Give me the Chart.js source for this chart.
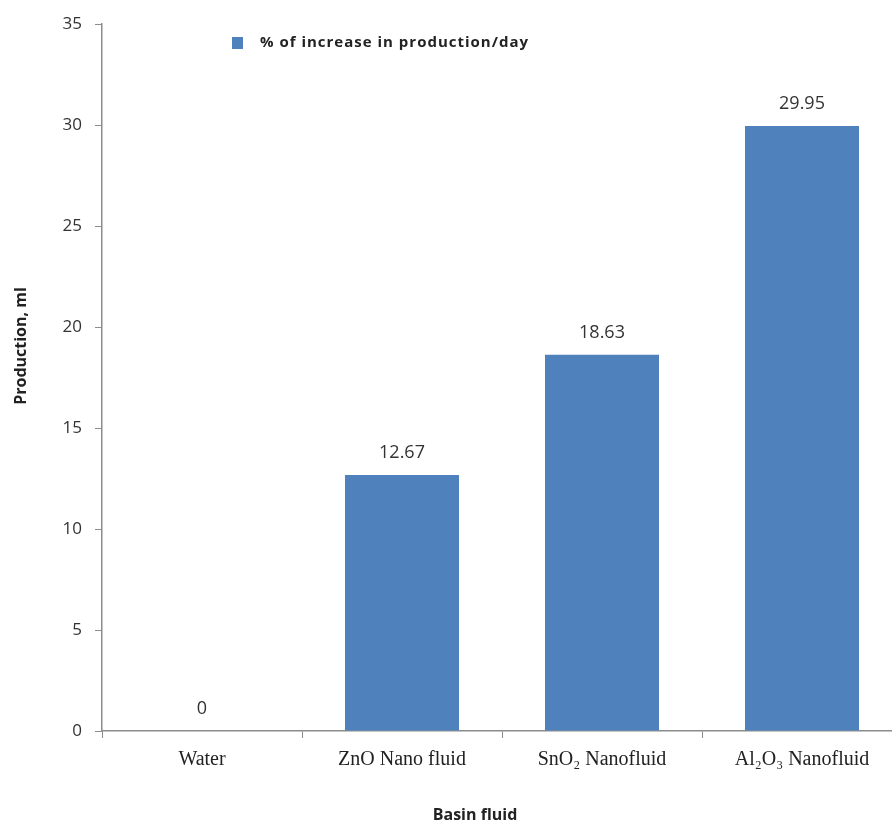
<!DOCTYPE html>
<html>
<head>
<meta charset="utf-8">
<script src="https://cdn.jsdelivr.net/npm/chart.js@4.4.1/dist/chart.umd.min.js"></script>
<style>
  html, body { margin: 0; padding: 0; background: #fff; overflow: hidden; }
  #wrap { width: 892px; height: 825px; overflow: hidden; }
  #wrap div { width: 912px; height: 825px; }
</style>
</head>
<body>
<div id="wrap"><div><canvas id="chart"></canvas></div></div>
<script>
const fluids = ["Water", "ZnO Nano fluid", "SnO\u2082 Nanofluid", "Al\u2082O\u2083 Nanofluid"];
const increase = [0, 12.67, 18.63, 29.95];
const seriesName = "% of increase in production/day";
const yTitle = "Production, ml";
const xTitle = "Basin fluid";

const barBlue = "#4f81bd";
const axisGray = "#8c8c8c";
const textGray = "#333";

// value labels above bars, legend and axis titles
const extras = {
  id: "extras",
  afterDatasetsDraw(chart) {
    const ctx = chart.ctx;
    const area = chart.chartArea;
    ctx.save();
    ctx.fillStyle = textGray;
    ctx.font = "18px 'Open Sans'";
    ctx.textAlign = "center";
    ctx.textBaseline = "middle";
    chart.getDatasetMeta(0).data.forEach((bar, i) => {
      ctx.fillText(String(increase[i]), bar.x, bar.y - 22);
    });

    // legend
    ctx.fillStyle = barBlue;
    ctx.fillRect(area.left + 130, area.top + 13, 11, 12);
    ctx.fillStyle = "#222";
    ctx.font = "bold 15px 'Open Sans'";
    ctx.letterSpacing = "1px";
    ctx.textAlign = "left";
    ctx.fillText(seriesName, area.left + 158, area.top + 19);
    ctx.letterSpacing = "0px";

    // x title
    ctx.textAlign = "center";
    ctx.font = "bold 16px 'Open Sans'";
    ctx.fillText(xTitle, 475, 815);

    // y title
    ctx.translate(21, 346);
    ctx.rotate(-Math.PI / 2);
    ctx.fillText(yTitle, 0, 0);
    ctx.restore();
  }
};

new Chart(document.getElementById("chart"), {
  type: "bar",
  data: {
    labels: fluids,
    datasets: [{
      label: seriesName,
      data: increase,
      backgroundColor: barBlue,
      barPercentage: 0.57,
      categoryPercentage: 1
    }]
  },
  options: {
    responsive: true,
    maintainAspectRatio: false,
    animation: false,
    layout: { padding: { top: 24, right: 10, left: 0, bottom: 0 } },
    plugins: {
      legend: { display: false },
      tooltip: { enabled: false }
    },
    scales: {
      x: {
        offset: true,
        grid: {
          offset: true,
          drawOnChartArea: false,
          drawTicks: true,
          tickLength: 7,
          color: axisGray
        },
        border: { color: axisGray, width: 1.5 },
        ticks: {
          color: "#222",
          font: { family: "'Liberation Serif', 'DejaVu Serif', serif", size: 20 },
          padding: 10,
          maxRotation: 0
        },
        afterFit: s => { s.height = 94; }
      },
      y: {
        min: 0,
        max: 35,
        grid: {
          drawOnChartArea: false,
          drawTicks: true,
          tickLength: 7,
          color: axisGray
        },
        border: { color: axisGray, width: 1.5 },
        ticks: {
          stepSize: 5,
          color: textGray,
          font: { family: "'Open Sans'", size: 17 },
          padding: 13
        },
        afterFit: s => { s.width = 102; }
      }
    }
  },
  plugins: [extras]
});
</script>
</body>
</html>
